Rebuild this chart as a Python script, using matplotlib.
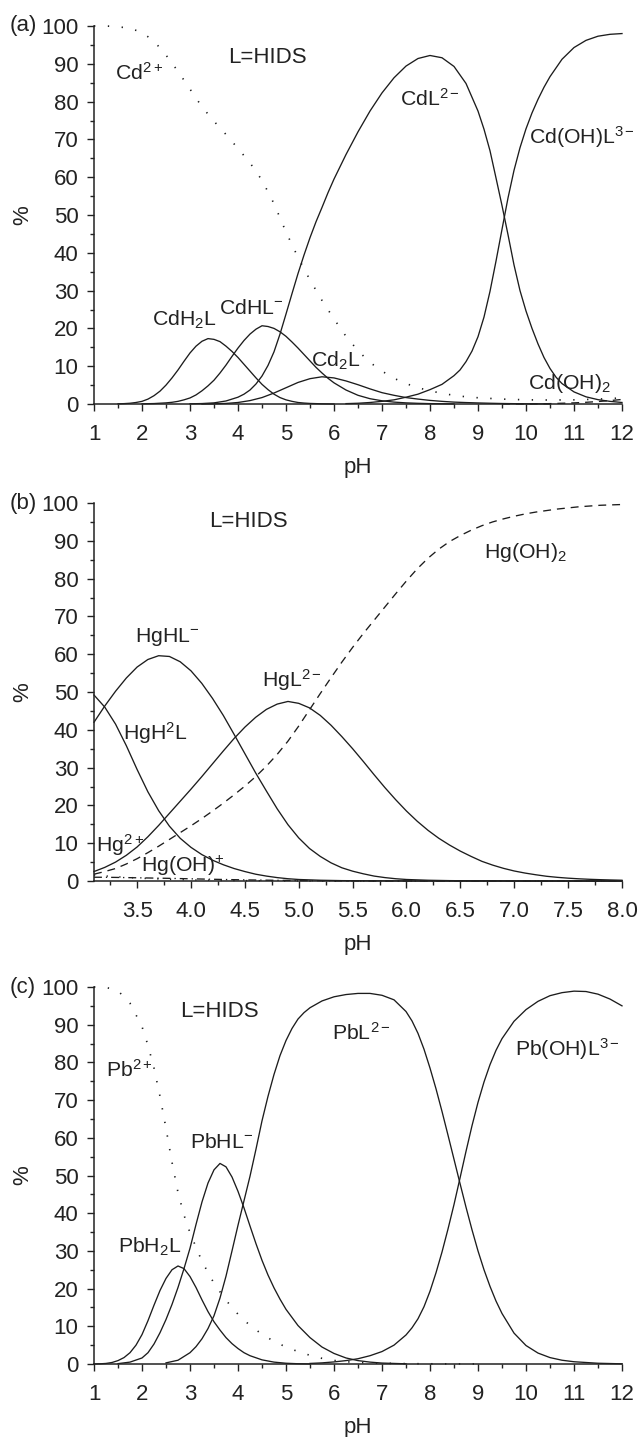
import numpy as np
import matplotlib
matplotlib.use("Agg")
import matplotlib.pyplot as plt
from matplotlib.ticker import MultipleLocator, FormatStrFormatter

plt.rcParams['font.family'] = ['Liberation Sans', 'DejaVu Sans']
plt.rcParams['mathtext.fontset'] = 'custom'
plt.rcParams['mathtext.rm'] = 'Liberation Sans'
plt.rcParams['mathtext.it'] = 'Liberation Sans:italic'
plt.rcParams['mathtext.bf'] = 'Liberation Sans:bold'

# ======================= data: panel (a) Cd =======================
ph_cd_free = [1.0, 1.25, 1.5, 1.75, 2.0, 2.25, 2.5, 2.75, 3.0, 3.25, 3.5, 3.75, 4.0, 4.25, 4.5,
              4.75, 5.0, 5.25, 5.5, 5.75, 6.0, 6.25, 6.5, 6.75, 7.0, 7.25, 7.5, 7.75, 8.0, 8.25,
              8.5, 8.75, 9.0, 9.5, 10.0, 10.5, 11.0, 11.5, 12.0]
cd_free = [100, 100, 99.8, 99.4, 98.3, 96.0, 92.3, 88.0, 83.3, 78.6, 74.8, 71.3, 67.6, 63.8, 59.2,
           53.0, 45.5, 38.8, 32.8, 27.4, 22.5, 17.9, 14.1, 11.0, 8.7, 6.8, 5.4, 4.3, 3.5, 2.8,
           2.3, 1.9, 1.65, 1.3, 1.1, 1.05, 1.1, 1.3, 1.6]

ph_cd_h2l = [1.5, 1.625, 1.75, 1.875, 2.0, 2.125, 2.25, 2.375, 2.5, 2.625, 2.75, 2.875, 3.0, 3.125,
             3.25, 3.375, 3.5, 3.625, 3.75, 3.875, 4.0, 4.125, 4.25, 4.375, 4.5, 4.625, 4.75, 4.875,
             5.0, 5.125, 5.25, 5.375, 5.5, 5.75, 6.0]
cd_h2l = [0.05, 0.1, 0.2, 0.4, 0.7, 1.3, 2.2, 3.4, 5.0, 6.9, 9.0, 11.3, 13.5, 15.3,
          16.6, 17.3, 17.1, 16.5, 15.3, 13.9, 12.3, 10.5, 8.7, 6.9, 5.2, 3.8, 2.6, 1.7,
          1.1, 0.7, 0.4, 0.25, 0.15, 0.05, 0]

ph_cd_hl = [2.0, 2.25, 2.5, 2.625, 2.75, 2.875, 3.0, 3.125, 3.25, 3.375, 3.5, 3.625, 3.75, 3.875,
            4.0, 4.125, 4.25, 4.375, 4.5, 4.625, 4.75, 4.875, 5.0, 5.125, 5.25, 5.375, 5.5, 5.625,
            5.75, 5.875, 6.0, 6.25, 6.5, 6.75, 7.0, 7.25, 7.5, 7.75, 8.0, 8.5]
cd_hl = [0.05, 0.12, 0.3, 0.45, 0.7, 1.1, 1.6, 2.4, 3.5, 4.8, 6.3, 8.2, 10.3, 12.6,
         14.8, 16.8, 18.5, 19.8, 20.7, 20.5, 20.0, 19.1, 17.9, 16.4, 14.8, 13.1, 11.4, 9.7,
         8.2, 6.8, 5.6, 3.7, 2.3, 1.4, 0.85, 0.5, 0.3, 0.18, 0.1, 0.03]

ph_cd_2l = [3.25, 3.5, 3.75, 4.0, 4.25, 4.5, 4.75, 5.0, 5.25, 5.5, 5.75, 6.0, 6.25, 6.5, 6.75,
            7.0, 7.25, 7.5, 7.75, 8.0, 8.25, 8.5, 8.75, 9.0, 9.25, 9.5, 10.0, 10.5]
cd_2l = [0, 0.05, 0.15, 0.4, 0.9, 1.7, 2.9, 4.3, 5.7, 6.7, 7.2, 6.9, 6.1, 5.1, 4.0,
         3.0, 2.3, 1.7, 1.3, 0.95, 0.7, 0.5, 0.38, 0.28, 0.2, 0.13, 0.05, 0.02]

ph_cd_l = [3.0, 3.25, 3.5, 3.75, 4.0, 4.125, 4.25, 4.375, 4.5, 4.625, 4.75, 4.875, 5.0, 5.125,
           5.25, 5.375, 5.5, 5.625, 5.75, 5.875, 6.0, 6.25, 6.5, 6.75, 7.0, 7.25, 7.5, 7.75,
           8.0, 8.25, 8.5, 8.75, 9.0, 9.125, 9.25, 9.375, 9.5, 9.625, 9.75, 9.875, 10.0, 10.125,
           10.25, 10.375, 10.5, 10.625, 10.75, 11.0, 11.25, 11.5, 11.75, 12.0]
cd_l = [0.05, 0.12, 0.3, 0.8, 1.8, 2.6, 3.7, 5.3, 7.4, 10.2, 13.8, 18.5, 23.8, 29.2,
        34.5, 39.4, 44.0, 48.2, 52.0, 55.9, 59.5, 66.0, 72.0, 77.5, 82.3, 86.3, 89.4, 91.4,
        92.2, 91.6, 89.3, 84.8, 77.5, 72.7, 67.0, 59.8, 52.5, 44.8, 36.8, 30.0, 24.6, 20.0,
        15.9, 12.3, 9.4, 7.1, 5.4, 3.2, 1.9, 1.15, 0.7, 0.4]

ph_cd_ohl = [6.25, 6.5, 6.75, 7.0, 7.25, 7.5, 7.75, 8.0, 8.25, 8.5, 8.625, 8.75, 8.875, 9.0,
             9.125, 9.25, 9.375, 9.5, 9.625, 9.75, 9.875, 10.0, 10.125, 10.25, 10.375, 10.5,
             10.75, 11.0, 11.25, 11.5, 11.75, 12.0]
cd_ohl = [0.1, 0.2, 0.4, 0.7, 1.1, 1.8, 2.6, 3.8, 5.2, 7.5, 9.0, 11.2, 14.0, 17.8,
          23.0, 29.8, 37.8, 46.2, 54.5, 61.8, 67.8, 72.8, 77.0, 80.6, 83.8, 86.6,
          91.2, 94.3, 96.2, 97.3, 97.8, 98.0]

ph_cd_oh2 = [9.5, 10.0, 10.25, 10.5, 10.75, 11.0, 11.25, 11.5, 11.75, 12.0]
cd_oh2 = [0, 0.02, 0.05, 0.1, 0.2, 0.3, 0.45, 0.65, 0.9, 1.2]

# ======================= data: panel (b) Hg =======================
ph_b = [3.1, 3.2, 3.3, 3.4, 3.5, 3.6, 3.7, 3.8, 3.9, 4.0, 4.1, 4.2, 4.3, 4.4, 4.5, 4.6, 4.7,
        4.8, 4.9, 5.0, 5.1, 5.2, 5.3, 5.4, 5.5, 5.6, 5.7, 5.8, 5.9, 6.0, 6.1, 6.2, 6.3, 6.4,
        6.5, 6.6, 6.7, 6.8, 6.9, 7.0, 7.1, 7.2, 7.3, 7.4, 7.5, 7.6, 7.7, 7.8, 7.9, 8.0]

hg_h2l = [49.2, 46.0, 41.5, 35.8, 29.5, 23.6, 18.6, 14.5, 11.3, 8.9, 7.0, 5.5, 4.3, 3.3, 2.5, 1.8, 1.3,
          0.9, 0.6, 0.4, 0.3, 0.2, 0.15, 0.1, 0.08, 0.06, 0.05, 0.04, 0.03, 0.02, 0, 0, 0, 0,
          0, 0, 0, 0, 0, 0, 0, 0, 0, 0, 0, 0, 0, 0, 0, 0]
hg_hl = [42.0, 46.3, 50.2, 53.7, 56.6, 58.6, 59.6, 59.4, 58.0, 55.6, 52.3, 48.3, 43.8, 38.8, 33.7, 28.6, 23.8,
         19.1, 14.9, 11.4, 8.6, 6.5, 4.8, 3.5, 2.6, 1.9, 1.3, 0.9, 0.6, 0.4, 0.3, 0.2, 0.15, 0.1,
         0.08, 0.06, 0.05, 0.04, 0.03, 0.02, 0, 0, 0, 0, 0, 0, 0, 0, 0, 0]
hg_l = [2.5, 3.6, 5.0, 6.8, 9.0, 11.7, 14.7, 17.9, 21.1, 24.3, 27.6, 31.0, 34.4, 37.7, 40.7, 43.3, 45.4,
        46.8, 47.5, 47.0, 45.8, 43.8, 41.2, 38.2, 35.0, 31.6, 28.1, 24.7, 21.5, 18.5, 15.8, 13.4, 11.3, 9.5,
        7.9, 6.5, 5.2, 4.2, 3.35, 2.65, 2.1, 1.65, 1.25, 0.97, 0.75, 0.58, 0.45, 0.35, 0.27, 0.2]
hg_oh2 = [1.8, 2.5, 3.3, 4.5, 5.9, 7.5, 9.2, 11.0, 12.8, 14.6, 16.5, 18.5, 20.6, 22.8, 25.1, 27.6, 30.4,
          33.5, 37.0, 41.0, 45.3, 49.6, 53.8, 57.9, 61.8, 65.5, 69.0, 72.5, 76.0, 79.4, 82.6, 85.4, 87.8, 89.8,
          91.4, 92.8, 94.0, 95.0, 95.8, 96.5, 97.1, 97.6, 98.0, 98.4, 98.7, 99.0, 99.2, 99.4, 99.5, 99.6]
hg_free = [1.6, 1.35, 1.15, 0.95, 0.8, 0.65, 0.55, 0.45, 0.37, 0.3, 0.24, 0.19, 0.15, 0.12, 0.1, 0.08, 0.06,
           0.05, 0.04, 0.03, 0, 0, 0, 0, 0, 0, 0, 0, 0, 0, 0, 0, 0, 0,
           0, 0, 0, 0, 0, 0, 0, 0, 0, 0, 0, 0, 0, 0, 0, 0]
hg_oh = [1.0, 0.98, 0.95, 0.9, 0.85, 0.8, 0.75, 0.7, 0.64, 0.58, 0.52, 0.46, 0.4, 0.35, 0.3, 0.26, 0.22,
         0.18, 0.15, 0.12, 0.1, 0.08, 0.06, 0.05, 0.04, 0, 0, 0, 0, 0, 0, 0, 0, 0,
         0, 0, 0, 0, 0, 0, 0, 0, 0, 0, 0, 0, 0, 0, 0, 0]

# ======================= data: panel (c) Pb =======================
ph_pb_free = [1.0, 1.25, 1.5, 1.75, 2.0, 2.125, 2.25, 2.375, 2.5, 2.625, 2.75, 2.875, 3.0, 3.25,
              3.5, 3.75, 4.0, 4.25, 4.5, 4.75, 5.0, 5.25, 5.5, 5.75, 6.0, 6.25, 6.5, 6.75, 7.0,
              7.5, 8.0, 9.0]
pb_free = [100, 99.9, 99.0, 95.7, 89.5, 84.5, 78.5, 71.0, 62.5, 53.5, 45.5, 39.5, 34.8, 27.2,
           21.4, 16.9, 13.2, 10.2, 7.9, 6.0, 4.5, 3.3, 2.3, 1.5, 0.95, 0.6, 0.4, 0.3, 0.2,
           0.1, 0.05, 0.02]

ph_pb_h2l = [1.0, 1.125, 1.25, 1.375, 1.5, 1.625, 1.75, 1.875, 2.0, 2.125, 2.25, 2.375, 2.5, 2.625,
             2.75, 2.875, 3.0, 3.125, 3.25, 3.375, 3.5, 3.625, 3.75, 3.875, 4.0, 4.125, 4.25, 4.5,
             4.75, 5.0, 5.25, 5.5]
pb_h2l = [0, 0.05, 0.15, 0.4, 0.9, 1.7, 3.0, 5.0, 7.8, 11.5, 15.6, 19.5, 22.7, 25.0,
          26.0, 25.3, 23.2, 20.3, 17.0, 13.9, 11.2, 9.0, 7.0, 5.4, 4.1, 3.0, 2.2, 1.1,
          0.5, 0.2, 0.07, 0.02]

ph_pb_hl = [1.5, 1.75, 2.0, 2.125, 2.25, 2.375, 2.5, 2.625, 2.75, 2.875, 3.0, 3.125, 3.25, 3.375,
            3.5, 3.625, 3.75, 3.875, 4.0, 4.125, 4.25, 4.375, 4.5, 4.625, 4.75, 4.875, 5.0, 5.25,
            5.5, 5.75, 6.0, 6.25, 6.5, 6.75, 7.0, 7.5]
pb_hl = [0.1, 0.5, 1.6, 3.0, 5.3, 8.3, 11.8, 15.8, 20.3, 25.3, 30.7, 37.0, 43.0, 48.0,
         51.5, 53.2, 52.3, 49.6, 45.8, 41.4, 36.6, 31.9, 27.5, 23.6, 20.2, 17.2, 14.5, 10.2,
         7.0, 4.5, 2.8, 1.6, 0.9, 0.5, 0.25, 0.05]

ph_pb_l = [2.5, 2.75, 3.0, 3.125, 3.25, 3.375, 3.5, 3.625, 3.75, 3.875, 4.0, 4.125, 4.25, 4.375,
           4.5, 4.625, 4.75, 4.875, 5.0, 5.125, 5.25, 5.375, 5.5, 5.75, 6.0, 6.25, 6.5, 6.75,
           7.0, 7.25, 7.5, 7.625, 7.75, 7.875, 8.0, 8.125, 8.25, 8.375, 8.5, 8.625, 8.75, 8.875,
           9.0, 9.125, 9.25, 9.375, 9.5, 9.75, 10.0, 10.25, 10.5, 10.75, 11.0, 11.5, 12.0]
pb_l = [0.3, 1.0, 3.0, 4.6, 6.7, 9.4, 12.8, 17.5, 23.3, 30.0, 36.8, 43.3, 49.8, 57.0,
        64.5, 71.0, 76.8, 81.8, 85.8, 89.0, 91.5, 93.2, 94.5, 96.3, 97.4, 98.0, 98.3, 98.3,
        97.8, 96.6, 93.5, 91.0, 87.7, 83.5, 78.5, 73.0, 67.0, 60.7, 54.3, 47.9, 41.6, 35.6,
        30.0, 25.0, 20.6, 16.7, 13.4, 8.2, 4.9, 2.9, 1.7, 1.0, 0.6, 0.2, 0.05]

ph_pb_ohl = [5.5, 5.75, 6.0, 6.25, 6.5, 6.75, 7.0, 7.25, 7.5, 7.625, 7.75, 7.875, 8.0, 8.125,
             8.25, 8.375, 8.5, 8.625, 8.75, 8.875, 9.0, 9.125, 9.25, 9.375, 9.5, 9.75, 10.0, 10.25,
             10.5, 10.75, 11.0, 11.25, 11.5, 11.75, 12.0]
pb_ohl = [0.15, 0.3, 0.55, 0.9, 1.4, 2.2, 3.3, 5.0, 7.7, 9.6, 12.0, 15.2, 19.3, 24.2,
          29.7, 35.8, 42.3, 49.3, 56.4, 63.2, 69.4, 74.8, 79.4, 83.2, 86.3, 90.9, 94.0, 96.2,
          97.7, 98.5, 98.9, 98.8, 98.1, 96.8, 95.0]

# ======================= styling =======================
FS = 16        # tick labels, axis labels, L=HIDS
FSL = 15.3     # species labels
TC = '#222222'
LC = '#1c1c1c'
LW = 0.95
DOT = (0, (0.8, 7.5))
DASH = (0, (6, 4.5))
DASHDOT = (0, (6, 3, 1, 3))

W, H = 638, 1437
fig = plt.figure(figsize=(W / 100, H / 100), dpi=100)

left = 94 / W
width = (622 - 94) / W


def make_ax(top_px, bot_px):
    ax = fig.add_axes([left, 1 - bot_px / H, width, (bot_px - top_px) / H])
    for s in ('top', 'right'):
        ax.spines[s].set_visible(False)
    for s in ('left', 'bottom'):
        ax.spines[s].set_linewidth(1.1)
        ax.spines[s].set_color(TC)
    ax.set_ylim(0, 100)
    ax.yaxis.set_major_locator(MultipleLocator(10))
    ax.yaxis.set_minor_locator(MultipleLocator(5))
    ax.tick_params(which='major', direction='out', length=5.2, width=1.0, labelsize=FS,
                   colors=TC)
    ax.tick_params(which='minor', direction='out', length=3.0, width=1.0, colors=TC)
    ax.tick_params(axis='x', which='major', pad=9)
    ax.tick_params(axis='y', which='major', pad=6)
    ax.set_xlabel('pH', fontsize=FS, color=TC)
    ax.set_ylabel('%', fontsize=FS, color=TC)
    ax.xaxis.set_label_coords(0.5, -0.14)
    ax.yaxis.set_label_coords(-0.115, 0.5)
    return ax


def label(ax, x, y, s, fs=FSL):
    ax.text(x, y, s, fontsize=fs, color=TC, ha='left', va='baseline')


# ---------------- panel (a) ----------------
axa = make_ax(26, 404)
axa.set_xlim(1, 12)
axa.xaxis.set_major_locator(MultipleLocator(1))
axa.xaxis.set_minor_locator(MultipleLocator(0.5))
axa.plot(ph_cd_free, cd_free, color=LC, lw=1.2, ls=DOT)
axa.plot(ph_cd_h2l, cd_h2l, color=LC, lw=LW)
axa.plot(ph_cd_hl, cd_hl, color=LC, lw=LW)
axa.plot(ph_cd_2l, cd_2l, color=LC, lw=LW)
axa.plot(ph_cd_l, cd_l, color=LC, lw=LW)
axa.plot(ph_cd_ohl, cd_ohl, color=LC, lw=LW)
axa.plot(ph_cd_oh2, cd_oh2, color=LC, lw=LW, ls=DASH)
label(axa, 1.44, 85.7, r'$\mathrm{Cd}^{2+}$')
label(axa, 3.79, 90.3, 'L=HIDS', FS)
label(axa, 7.37, 78.8, r'$\mathrm{CdL}^{2-}$')
label(axa, 10.06, 68.8, r'$\mathrm{Cd(OH)L}^{3-}$')
label(axa, 2.21, 20.6, r'$\mathrm{CdH}_2\mathrm{L}$')
label(axa, 3.61, 23.7, r'$\mathrm{CdHL}^{-}$')
label(axa, 5.52, 9.9, r'$\mathrm{Cd}_2\mathrm{L}$')
label(axa, 10.05, 3.9, r'$\mathrm{Cd(OH)}_2$')
fig.text(10 / W, 1 - 26 / H, '(a)', fontsize=FS, color=TC, va='center', ha='left')

# ---------------- panel (b) ----------------
axb = make_ax(503, 881)
axb.set_xlim(3.1, 8.0)
axb.xaxis.set_major_locator(MultipleLocator(0.5))
axb.xaxis.set_minor_locator(MultipleLocator(0.25))
axb.xaxis.set_major_formatter(FormatStrFormatter('%.1f'))
axb.plot(ph_b, hg_h2l, color=LC, lw=LW)
axb.plot(ph_b, hg_hl, color=LC, lw=LW)
axb.plot(ph_b, hg_l, color=LC, lw=LW)
axb.plot(ph_b, hg_oh2, color=LC, lw=LW, ls=DASH)
axb.plot(ph_b, hg_free, color=LC, lw=1.1, ls=DOT)
axb.plot(ph_b, hg_oh, color=LC, lw=LW, ls=DASHDOT)
label(axb, 4.17, 93.6, 'L=HIDS', FS)
label(axb, 3.485, 63.1, r'$\mathrm{HgHL}^{-}$')
label(axb, 4.66, 51.4, r'$\mathrm{HgL}^{2-}$')
label(axb, 3.37, 37.3, r'$\mathrm{HgH}^{2}\mathrm{L}$')
label(axb, 6.72, 85.4, r'$\mathrm{Hg(OH)}_2$')
label(axb, 3.12, 7.75, r'$\mathrm{Hg}^{2+}$')
label(axb, 3.54, 2.5, r'$\mathrm{Hg(OH)}^{+}$')
fig.text(10 / W, 1 - 503 / H, '(b)', fontsize=FS, color=TC, va='center', ha='left')

# ---------------- panel (c) ----------------
axc = make_ax(987, 1364)
axc.set_xlim(1, 12)
axc.xaxis.set_major_locator(MultipleLocator(1))
axc.xaxis.set_minor_locator(MultipleLocator(0.5))
axc.plot(ph_pb_free, pb_free, color=LC, lw=1.2, ls=DOT)
axc.plot(ph_pb_h2l, pb_h2l, color=LC, lw=LW)
axc.plot(ph_pb_hl, pb_hl, color=LC, lw=LW)
axc.plot(ph_pb_l, pb_l, color=LC, lw=LW)
axc.plot(ph_pb_ohl, pb_ohl, color=LC, lw=LW)
label(axc, 2.79, 92.1, 'L=HIDS', FS)
label(axc, 1.25, 76.2, r'$\mathrm{Pb}^{2+}$')
label(axc, 2.99, 57.2, r'$\mathrm{PbHL}^{-}$')
label(axc, 1.51, 29.5, r'$\mathrm{PbH}_2\mathrm{L}$')
label(axc, 5.95, 85.9, r'$\mathrm{PbL}^{2-}$')
label(axc, 9.77, 81.7, r'$\mathrm{Pb(OH)L}^{3-}$')
fig.text(10 / W, 1 - 987 / H, '(c)', fontsize=FS, color=TC, va='center', ha='left')

for ax in (axa, axb, axc):
    for ln in ax.lines:
        ln.set_clip_on(False)
        ln.set_solid_joinstyle('round')

fig.savefig('out.png', dpi=100)
